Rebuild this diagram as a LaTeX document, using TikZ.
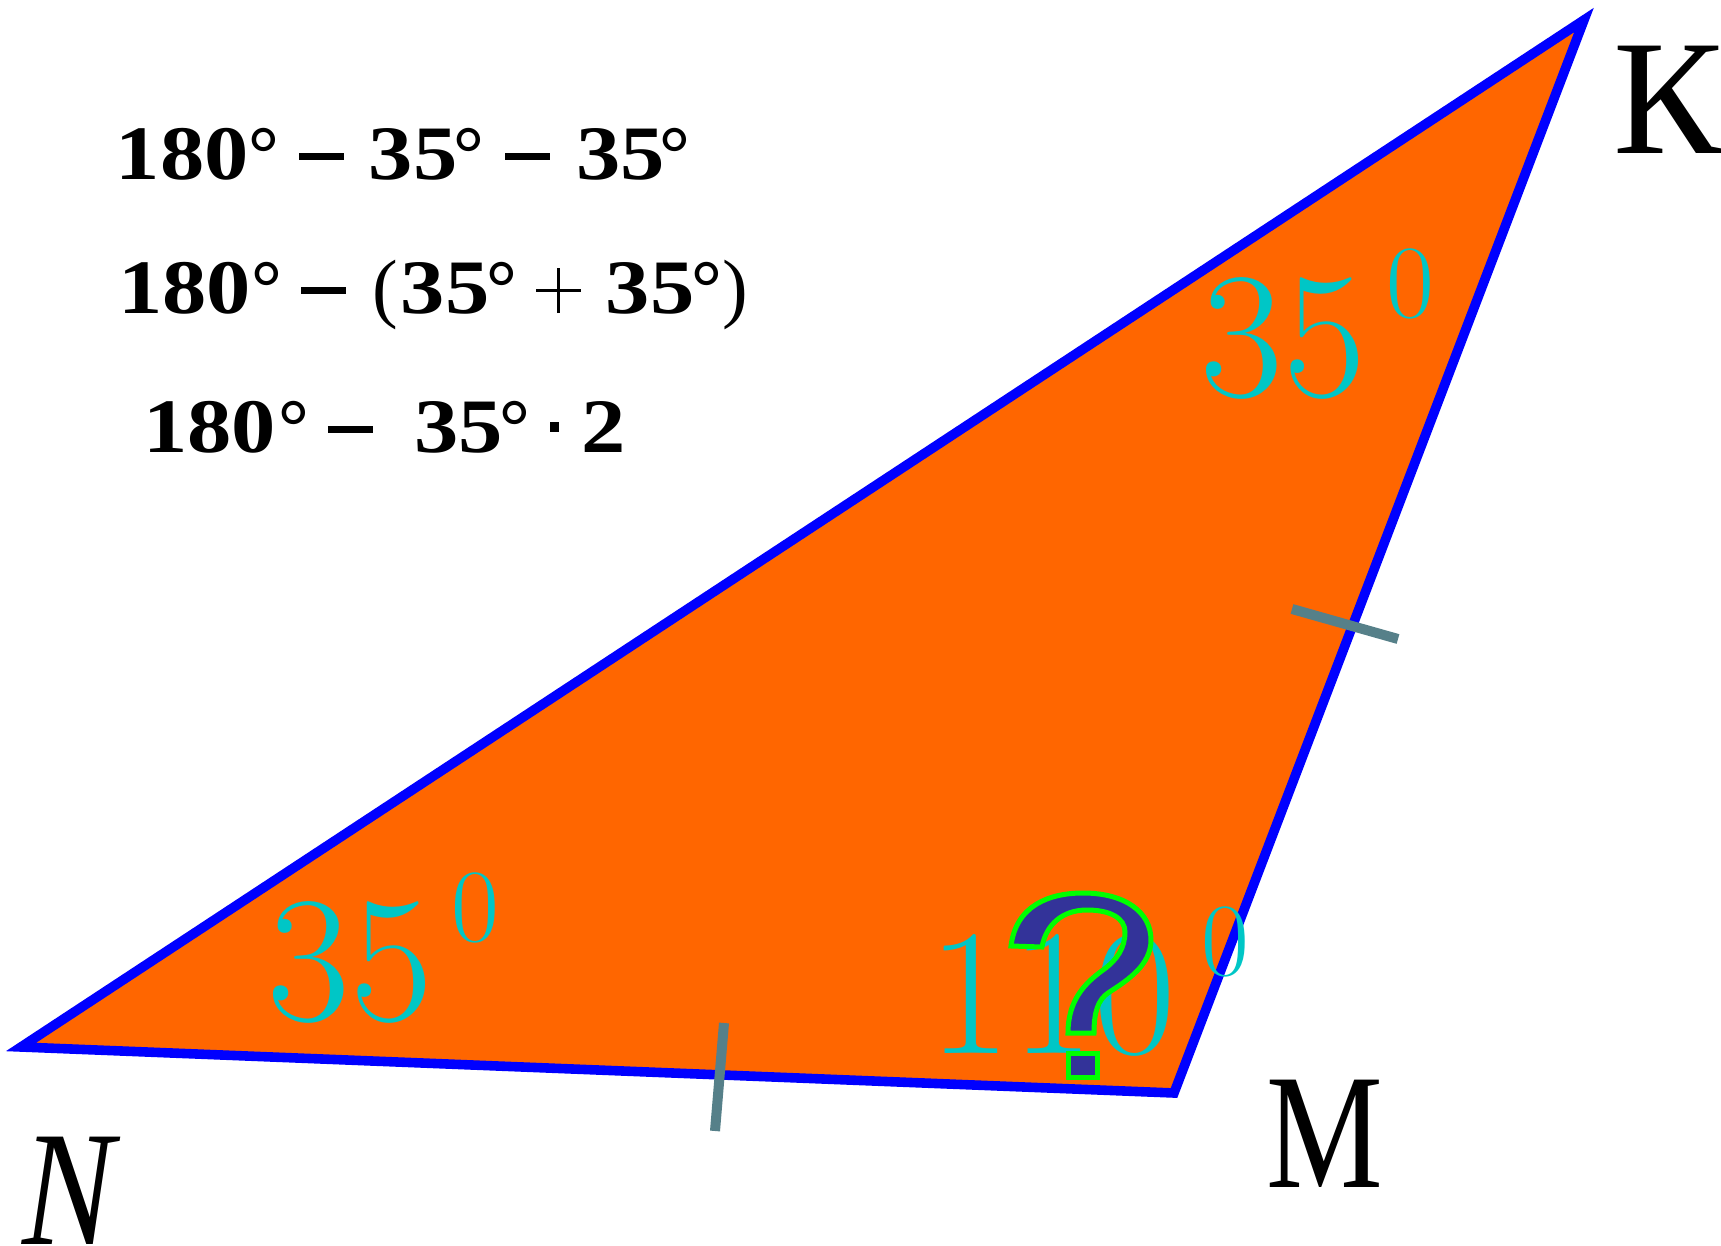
\documentclass[tikz,border=0pt]{standalone}
\usepackage{fontspec}
\newfontfamily\libser{Liberation Serif}
\usetikzlibrary{calc}
\definecolor{triorange}{HTML}{FF6600}
\definecolor{triblue}{HTML}{0000FF}
\definecolor{anglecyan}{HTML}{00C6C6}
\definecolor{tickgray}{HTML}{568089}
\definecolor{qblue}{HTML}{333399}
\definecolor{qgreen}{HTML}{00FF00}
\newcommand{\putat}[2]{\rlap{\hspace{#1}#2}}
\newcommand{\dgt}[1]{\scalebox{1.15}[1]{#1}}
\newcommand{\mrule}{\rule[9.8pt]{22.5pt}{3.6pt}}
\newcommand{\thin}[1]{{\mdseries #1}}
\tikzset{
  tri/.style={fill=triorange, draw=triblue, line width=4.8pt, line join=miter},
  tickmark/.style={draw=tickgray, line width=5pt},
  anglenum/.style={text=anglecyan, font=\fontsize{90}{90}\selectfont, inner sep=0pt, anchor=base west},
  anglesup/.style={text=anglecyan, font=\fontsize{52}{52}\selectfont, inner sep=0pt, anchor=base west},
  formula/.style={font=\libser\bfseries\fontsize{38.5}{38.5}\selectfont, inner sep=0pt, anchor=base west},
  vertexlabel/.style={font=\libser\fontsize{82}{82}\selectfont, inner sep=0pt, anchor=base west},
  qshape/.style={fill=qblue, draw=qgreen, line width=2.5pt, line join=miter}
}
\begin{document}
\begin{tikzpicture}[x=0.5pt,y=-0.5pt]
\useasboundingbox (0,0) rectangle (1721,1246);
% triangle
\coordinate (N) at (21,1047);
\coordinate (M) at (1174,1093);
\coordinate (K) at (1584,20);
\draw[tri] (N) -- (M) -- (K) -- cycle;
% tick marks
\coordinate (t1a) at (1292,609);
\coordinate (t1b) at (1398,639);
\coordinate (t2a) at (724,1023);
\coordinate (t2b) at (715,1131);
\draw[tickmark] (t1a) -- (t1b);
\draw[tickmark] (t2a) -- (t2b);
% angle labels
\node[anglenum] (aN) at (267,1020) {35};
\node[anglesup] (aNs) at (451,941) {0};
\node[anglenum] (aK) at (1200,397) {35};
\node[anglesup] (aKs) at (1386,318) {0};
\node[anglenum] (aM) at (928,1053) {110};
\node[anglesup] (aMs) at (1201,975) {0};
% question mark (outlined glyph shape)
\draw[qshape] (1011,946) .. controls (1016,905) and (1050,893) .. (1083,893)
  .. controls (1125,893) and (1151,912) .. (1151,940)
  .. controls (1151,965) and (1128,980) .. (1108,993)
  .. controls (1098,1000) and (1094,1012) .. (1094,1033)
  -- (1068,1033)
  .. controls (1068,1000) and (1085,983) .. (1103,970)
  .. controls (1117,960) and (1125,948) .. (1125,932)
  .. controls (1125,918) and (1110,910) .. (1087,910)
  .. controls (1062,910) and (1046,925) .. (1042,947)
  -- cycle;
\draw[qshape] (1068,1053) rectangle (1097,1077);
% formulas
\node[formula] (f1) at (114,180) {\putat{0.25pt}{\dgt{180}}\putat{66.6pt}{°}\putat{92pt}{\mrule}\putat{126.8pt}{\dgt{35}}\putat{169.3pt}{°}\putat{195pt}{\mrule}\putat{230.6pt}{\dgt{35}}\putat{272.3pt}{°}};
\node[formula] (f2) at (116,314) {\putat{0.35pt}{\dgt{180}}\putat{67pt}{°}\putat{91.9pt}{\mrule}\putat{127.8pt}{\thin{(}}\putat{141.8pt}{\dgt{35}}\putat{184.6pt}{°}\putat{209.5pt}{\rule[10.9pt]{22.5pt}{1.5pt}}\putat{220pt}{\rule[0.4pt]{1.5pt}{22.5pt}}\putat{244.3pt}{\dgt{35}}\putat{287.1pt}{°}\putat{302.4pt}{\thin{)}}};
\node[formula] (f3) at (141,453) {\putat{0.4pt}{\dgt{180}}\putat{67.8pt}{°}\putat{92.8pt}{\mrule}\putat{135.8pt}{\dgt{35}}\putat{178.8pt}{°}\putat{204pt}{\rule[10.5pt]{4.5pt}{5pt}}\putat{219.5pt}{\dgt{2}}};
% vertex labels
\node[vertexlabel] (lK) at (1613,154) {К};
\node[vertexlabel] (lM) at (1266,1187) {\scalebox{0.8}[1]{M}};
\node[vertexlabel] (lN) at (22,1244) {\scalebox{0.84}[1]{\itshape N}};
\end{tikzpicture}
\end{document}
